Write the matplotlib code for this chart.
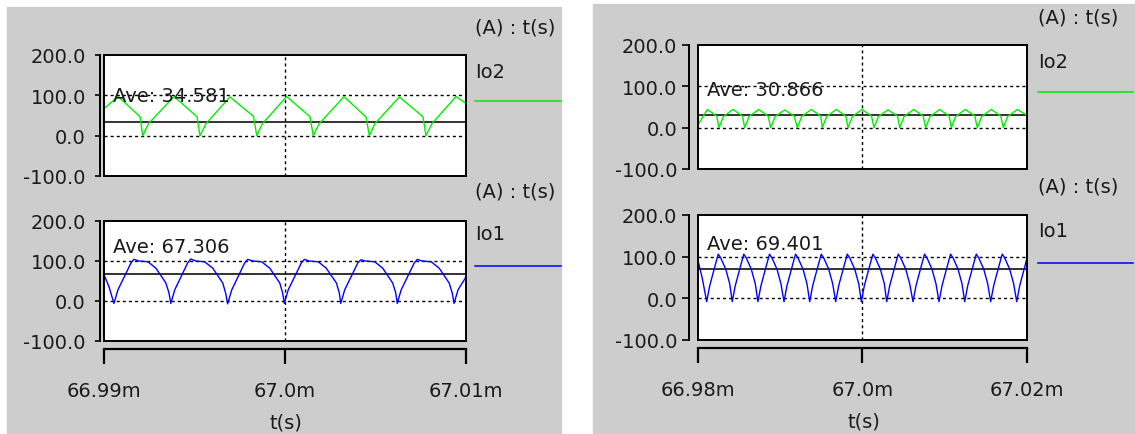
import matplotlib
matplotlib.use("Agg")
import matplotlib.pyplot as plt
from matplotlib.patches import Rectangle
from matplotlib.lines import Line2D

plt.rcParams["font.family"] = ["DejaVu Sans"]
plt.rcParams["axes.unicode_minus"] = False

# time in microseconds from the start of each window, current in A
LEFT_TICKS = [0, 10, 20]
LEFT_TICK_LABELS = ["66.99m", "67.0m", "67.01m"]
RIGHT_TICKS = [0, 20, 40]
RIGHT_TICK_LABELS = ["66.98m", "67.0m", "67.02m"]
Y_TICKS = [-100, 0, 100, 200]
Y_TICK_LABELS = ["-100.0", "0.0", "100.0", "200.0"]

# left window (66.99m .. 67.01m)
io2_left_t = [0.00, 0.79, 1.99, 2.14, 2.46, 3.87, 5.14, 5.30, 5.64, 6.96,
              8.26, 8.44, 8.76, 10.09, 11.38, 11.56, 11.88, 13.26, 14.48,
              14.66, 14.97, 16.32, 17.62, 17.79, 18.12, 19.45, 20.00]
io2_left_v = [67, 97, 47, 0, 30, 97, 47, 0, 30, 96,
              48, 0, 30, 97, 47, 0, 29, 97, 46,
              0, 30, 96, 47, 0, 30, 97, 80]
io2_left_ave = 34.581

io1_left_t = [0.00, 0.28, 0.55,
              0.77, 1.49, 1.65, 1.93, 2.43, 2.87, 3.42, 3.59, 3.69,
              3.91, 4.62, 4.79, 5.07, 5.56, 6.01, 6.56, 6.72, 6.83,
              7.06, 7.77, 7.94, 8.22, 8.71, 9.16, 9.71, 9.87, 9.96,
              10.18, 10.90, 11.07, 11.34, 11.84, 12.28, 12.84, 13.00, 13.08,
              13.30, 14.02, 14.19, 14.46, 14.96, 15.40, 15.95, 16.12, 16.20,
              16.42, 17.14, 17.31, 17.58, 18.08, 18.52, 19.07, 19.24, 19.34,
              19.56, 20.00]
io1_left_v = [66, 35, -6,
              28, 95, 104, 100, 98, 82, 45, 20, -6,
              28, 95, 105, 100, 98, 82, 45, 20, -7,
              28, 95, 104, 100, 98, 82, 45, 20, -6,
              28, 95, 104, 100, 98, 82, 45, 20, -6,
              28, 95, 103, 100, 98, 82, 45, 20, -6,
              28, 95, 104, 100, 98, 82, 45, 20, -6,
              28, 60]
io1_left_ave = 67.306

# right window (66.98m .. 67.02m)
io2_right_t = [0.00, 1.19, 2.33, 2.61,
               3.14, 4.31, 5.46, 5.73,
               6.26, 7.43, 8.58, 8.89,
               9.42, 10.59, 11.74, 12.12,
               12.65, 13.82, 14.97, 15.15,
               15.68, 16.85, 18.00, 18.27,
               18.80, 19.97, 21.12, 21.43,
               21.96, 23.13, 24.28, 24.55,
               25.08, 26.25, 27.40, 27.70,
               28.23, 29.40, 30.55, 30.81,
               31.34, 32.51, 33.66, 33.97,
               34.50, 35.67, 36.82, 37.12,
               37.65, 38.82, 40.00]
io2_right_v = [5, 44, 28, 0,
               27, 44, 28, 0,
               27, 44, 28, 0,
               27, 43, 28, 0,
               27, 44, 28, 0,
               27, 44, 28, 0,
               27, 44, 28, 0,
               27, 43, 28, 0,
               27, 44, 28, 0,
               27, 44, 28, 0,
               27, 44, 28, 0,
               27, 44, 28, 0,
               27, 44, 30]
io2_right_ave = 30.866

io1_right_t = [0.00, 0.56, 1.12,
               1.48, 2.09, 2.52, 2.82, 3.43, 3.91, 4.22,
               4.58, 5.19, 5.62, 5.92, 6.53, 7.01, 7.34,
               7.70, 8.31, 8.74, 9.04, 9.65, 10.13, 10.50,
               10.86, 11.47, 11.90, 12.20, 12.81, 13.29, 13.62,
               13.98, 14.59, 15.02, 15.32, 15.93, 16.41, 16.78,
               17.14, 17.75, 18.18, 18.48, 19.09, 19.57, 19.89,
               20.25, 20.86, 21.29, 21.59, 22.20, 22.68, 22.97,
               23.33, 23.94, 24.37, 24.67, 25.28, 25.76, 26.16,
               26.52, 27.13, 27.56, 27.86, 28.47, 28.95, 29.32,
               29.68, 30.29, 30.72, 31.02, 31.63, 32.11, 32.44,
               32.80, 33.41, 33.84, 34.14, 34.75, 35.23, 35.59,
               35.95, 36.56, 36.99, 37.29, 37.90, 38.38, 38.75,
               39.11, 39.72, 40.00]
io1_right_v = [95, 50, -8,
               30, 75, 106, 97, 70, 35, -8,
               30, 75, 106, 97, 70, 35, -8,
               30, 75, 106, 97, 70, 35, -8,
               30, 75, 106, 97, 70, 35, -8,
               30, 75, 106, 97, 70, 35, -8,
               30, 75, 106, 97, 70, 35, -8,
               30, 75, 106, 97, 70, 35, -8,
               30, 75, 106, 97, 70, 35, -8,
               30, 75, 106, 97, 70, 35, -8,
               30, 75, 106, 97, 70, 35, -8,
               30, 75, 106, 97, 70, 35, -8,
               30, 75, 106, 97, 70, 35, -8,
               30, 75, 98]
io1_right_ave = 69.401

GREEN = "#00ee00"
BLUE = "#0000ff"
BG = "#cdcdcd"
INK = "#1a1a1a"
FS = 14

W, H = 1135, 435
fig = plt.figure(figsize=(W / 100, H / 100), dpi=100)
fig.patch.set_facecolor("white")


def fx(px):
    return px / W


def fy(py):
    return 1 - py / H


def frame(x0, y0, x1, y1):
    return [fx(x0), fy(y1), (x1 - x0) / W, (y1 - y0) / H]


def px2pt(px):
    return px * 72 / 100


def trace_panel(rect, t, v, color, ave, ave_at, ticks, tick_labels,
                y_gap, y_tick_len, y_pad, show_x):
    ax = fig.add_axes(rect)
    ax.set_facecolor("white")
    ax.set_xlim(ticks[0], ticks[-1])
    ax.set_ylim(-100, 200)

    dots = (0, (2.2, 2.2))
    for y in (0, 100):
        ax.axhline(y, color="black", lw=1.0, ls=dots, zorder=1)
    ax.axvline(ticks[1], color="black", lw=1.0, ls=dots, zorder=1)
    ax.axhline(ave, color="#222222", lw=1.3, zorder=2)
    ax.plot(t, v, color=color, lw=1.0, zorder=3)
    ax.text(ave_at[0], ave_at[1], f"Ave: {ave:.3f}", fontsize=FS,
            color=INK, ha="left", va="center", zorder=7)

    # plot frame drawn separately so the axis lines can sit outside it
    ax.add_patch(Rectangle((0, 0), 1, 1, transform=ax.transAxes, fill=False,
                           ec="black", lw=1.4, clip_on=False, zorder=6))
    ax.spines["top"].set_visible(False)
    ax.spines["right"].set_visible(False)
    ax.spines["left"].set_position(("outward", px2pt(y_gap)))
    ax.spines["left"].set_linewidth(1.4)
    ax.set_yticks(Y_TICKS)
    ax.set_yticklabels(Y_TICK_LABELS)
    ax.tick_params(axis="y", direction="out", length=px2pt(y_tick_len),
                   width=1.2, pad=px2pt(y_pad), labelsize=FS, labelcolor=INK)

    if show_x:
        ax.spines["bottom"].set_position(("outward", px2pt(8)))
        ax.spines["bottom"].set_linewidth(1.6)
        ax.set_xticks(ticks)
        ax.set_xticklabels(tick_labels)
        ax.tick_params(axis="x", direction="out", length=px2pt(15),
                       width=1.6, pad=px2pt(17), labelsize=FS, labelcolor=INK)
    else:
        ax.spines["bottom"].set_visible(False)
        ax.set_xticks([])
    return ax


def legend_entry(x, y_unit, y_name, y_line, x_end, name, color):
    fig.text(fx(x), fy(y_unit), "(A) : t(s)", fontsize=FS, color=INK,
             ha="left", va="center")
    fig.text(fx(x), fy(y_name), name, fontsize=FS, color=INK,
             ha="left", va="center")
    fig.add_artist(Line2D([fx(x), fx(x_end)], [fy(y_line), fy(y_line)],
                          transform=fig.transFigure, color=color, lw=1.1))


# grey panel backgrounds
fig.add_artist(Rectangle((fx(7), fy(435)), (561 - 7) / W, (435 - 8) / H,
                         transform=fig.transFigure, color=BG, zorder=-5))
fig.add_artist(Rectangle((fx(593), fy(435)), (1135 - 593) / W, (435 - 5) / H,
                         transform=fig.transFigure, color=BG, zorder=-5))

# left window
trace_panel(frame(104, 56, 466, 177), io2_left_t, io2_left_v, GREEN,
            io2_left_ave, (0.5, 100), LEFT_TICKS, LEFT_TICK_LABELS,
            4, 5, 9, False)
trace_panel(frame(104, 222, 466, 342), io1_left_t, io1_left_v, BLUE,
            io1_left_ave, (0.5, 136), LEFT_TICKS, LEFT_TICK_LABELS,
            4, 5, 9, True)
legend_entry(475, 28, 72, 102, 561, "Io2", GREEN)
legend_entry(475, 192, 235, 267, 561, "Io1", BLUE)
fig.text(fx(286), fy(423), "t(s)", fontsize=FS, color=INK,
         ha="center", va="center")

# right window
trace_panel(frame(697.5, 46, 1027, 170), io2_right_t, io2_right_v, GREEN,
            io2_right_ave, (1.12, 92), RIGHT_TICKS, RIGHT_TICK_LABELS,
            8.5, 7, 5, False)
trace_panel(frame(697.5, 216, 1027, 341), io1_right_t, io1_right_v, BLUE,
            io1_right_ave, (1.12, 132), RIGHT_TICKS, RIGHT_TICK_LABELS,
            8.5, 7, 5, True)
legend_entry(1038, 18, 62, 93, 1133, "Io2", GREEN)
legend_entry(1038, 187, 232, 264, 1133, "Io1", BLUE)
fig.text(fx(864), fy(422), "t(s)", fontsize=FS, color=INK,
         ha="center", va="center")

fig.savefig("out.png", dpi=100)
